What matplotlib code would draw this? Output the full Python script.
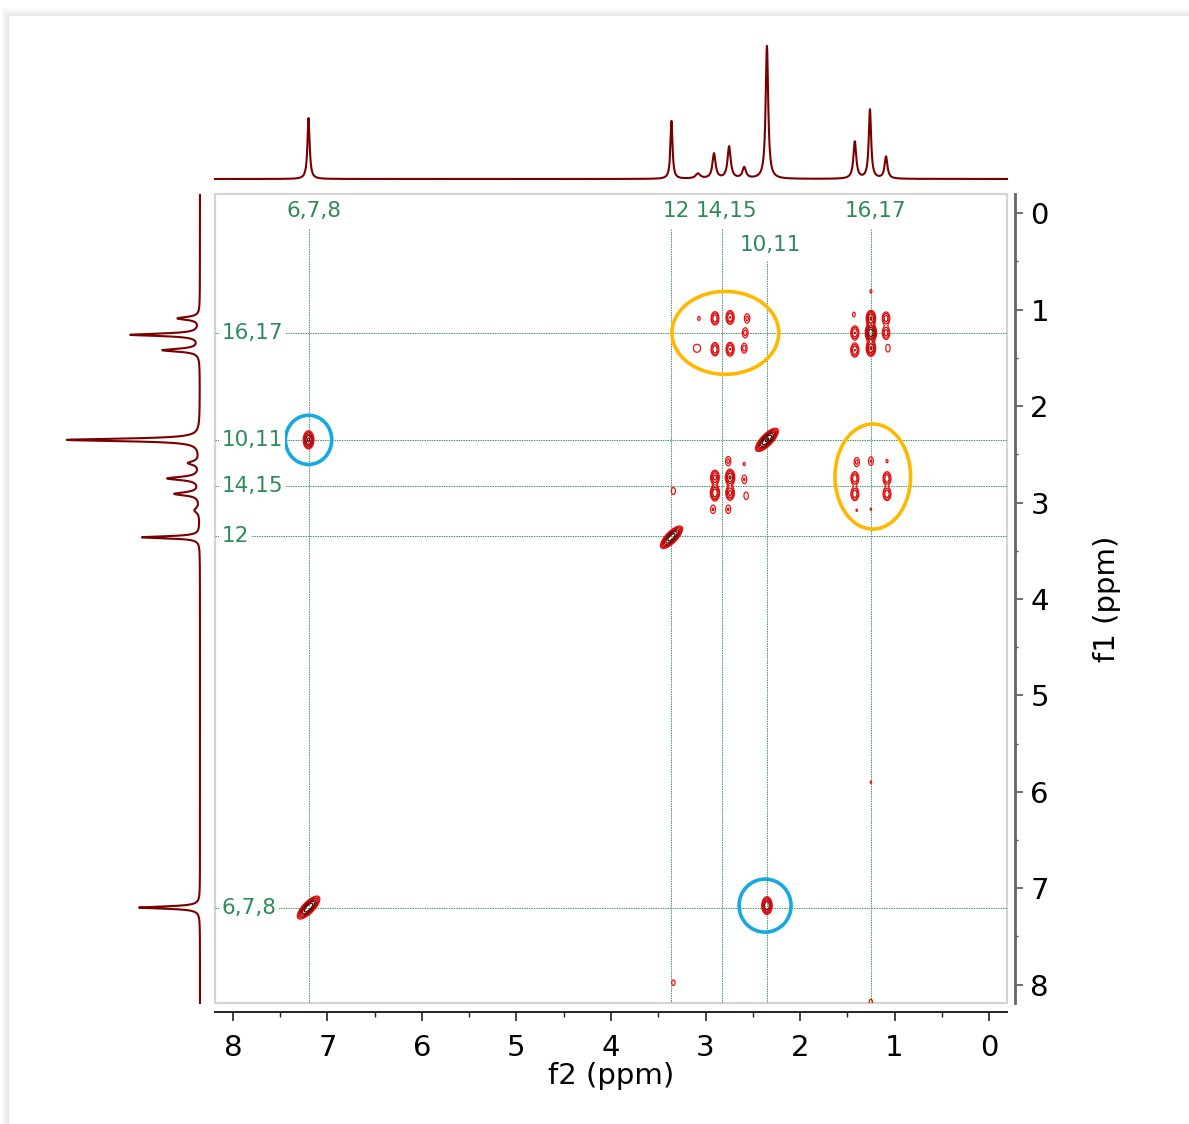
import numpy as np
import matplotlib
matplotlib.use("Agg")
import matplotlib.pyplot as plt
from matplotlib.patches import Ellipse, Rectangle
from matplotlib.ticker import MultipleLocator

# ---------------- data ----------------
# 1D projection (f2 / f1 share the same proton spectrum)
peak_ppm = [7.20, 3.36, 3.08, 2.91, 2.75, 2.59, 2.35, 1.42, 1.26, 1.09]
peak_height = [61, 58, 5, 25, 32, 11, 133, 37, 69, 22]
peak_hwhm = [0.014, 0.013, 0.03, 0.02, 0.02, 0.022, 0.016, 0.018, 0.015, 0.018]

# diagonal (auto) peaks: shift, amplitude
diag_ppm = [7.20, 3.36, 2.35]
diag_amp = [40, 35, 45]

# cross / multiplet peaks: f2, f1, amplitude
cross_f2 = [7.20, 2.35,
            3.07, 2.90, 2.74, 2.56, 2.58, 3.11, 3.07, 2.90, 2.74, 2.59,
            1.40, 1.25, 1.08, 1.42, 1.08, 1.42, 1.08, 1.40, 1.25,
            2.76, 2.59, 2.90, 2.74, 2.59, 2.90, 2.74, 2.57, 2.92, 2.76, 3.34,
            1.25, 1.25, 1.25, 1.42, 1.42, 1.09, 1.09, 1.07, 1.43, 1.25,
            3.34, 1.25, 1.25]
cross_f1 = [2.35, 7.18,
            1.09, 1.09, 1.08, 1.09, 1.24, 1.40, 1.40, 1.41, 1.41, 1.40,
            2.58, 2.57, 2.57, 2.75, 2.75, 2.91, 2.91, 3.08, 3.07,
            2.57, 2.60, 2.74, 2.74, 2.76, 2.90, 2.90, 2.93, 3.07, 3.07, 2.88,
            1.09, 1.24, 1.40, 1.24, 1.42, 1.09, 1.24, 1.40, 1.05, 0.81,
            7.98, 8.18, 5.90]
cross_amp = [16, 14,
             1.15, 4.5, 5, 2.0, 2.2, 1.2, 1.2, 4.5, 5, 2.2,
             2.0, 1.8, 1.1, 4.5, 4.5, 4.5, 4.5, 1.05, 1.05,
             2.0, 1.1, 6, 9, 1.8, 8, 6, 1.6, 1.8, 1.8, 1.5,
             9, 22, 9, 5, 5, 4, 4, 1.6, 1.2, 1.1,
             1.3, 1.3, 1.05]

# labels of the assignment guide lines
top_labels = ["6,7,8", "12", "14,15", "10,11", "16,17"]
top_label_ppm = [7.20, 3.36, 2.83, 2.35, 1.25]
left_labels = ["16,17", "10,11", "14,15", "12", "6,7,8"]
left_label_ppm = [1.24, 2.35, 2.83, 3.35, 7.20]

x_ticks = [8, 7, 6, 5, 4, 3, 2, 1, 0]
y_ticks = [0, 1, 2, 3, 4, 5, 6, 7, 8]

# ---------------- figure ----------------
W, H, DPI = 1189, 1124, 100
fig = plt.figure(figsize=(W / DPI, H / DPI), dpi=DPI)
fig.patch.set_facecolor("white")

# soft card shadow
cx0, cy0 = 9, 16
for k in range(8, 0, -1):
    fig.patches.append(Rectangle(((cx0 - k) / W, 0), 1, (H - cy0 + k) / H,
                                 transform=fig.transFigure, facecolor="#000000",
                                 edgecolor="none", alpha=0.010, zorder=-10))
fig.patches.append(Rectangle((cx0 / W, 0), 1, (H - cy0) / H, transform=fig.transFigure,
                             facecolor="white", edgecolor="none", zorder=-9))

XL = (8.19, -0.19)
YL = (8.19, -0.20)
px_l, px_r, px_t, px_b = 215, 1007, 194, 1003
ax = fig.add_axes([px_l / W, 1 - px_b / H, (px_r - px_l) / W, (px_b - px_t) / H])
ax.set_xlim(*XL)
ax.set_ylim(*YL)
ax.set_facecolor("none")

# frame
ax.add_patch(Rectangle((0, 0), 1, 1, transform=ax.transAxes, fill=False,
                       edgecolor="#d4d4d4", lw=1.6, zorder=1, clip_on=False))
for s in ("top", "left"):
    ax.spines[s].set_visible(False)
ax.spines["bottom"].set_position(("outward", 6.5))
ax.spines["right"].set_position(("outward", 5.8))
ax.spines["bottom"].set_color("#222222")
ax.spines["bottom"].set_linewidth(1.4)
ax.spines["right"].set_color("#666666")
ax.spines["right"].set_linewidth(2.0)
ax.yaxis.tick_right()
ax.yaxis.set_label_position("right")
ax.set_xticks(x_ticks)
ax.set_yticks(y_ticks)
ax.xaxis.set_minor_locator(MultipleLocator(0.5))
ax.yaxis.set_minor_locator(MultipleLocator(0.5))
ax.tick_params(axis="x", which="major", length=6.5, width=1.2, color="#222222",
               labelsize=21, pad=9)
ax.tick_params(axis="x", which="minor", length=3.5, width=1.0, color="#222222")
ax.tick_params(axis="y", which="major", length=6, width=1.2, color="#555555",
               labelsize=21, pad=5)
ax.tick_params(axis="y", which="minor", length=2.5, width=1.0, color="#555555")
ax.set_xlabel("f2 (ppm)", fontsize=21, labelpad=0)
ax.set_ylabel("f1 (ppm)", fontsize=21, labelpad=32, rotation=90)

# ---------------- 2D contour data ----------------
step = 0.005
gx = np.arange(-0.19, 8.19 + step, step)
gy = np.arange(-0.20, 8.19 + step, step)
Z = np.zeros((gy.size, gx.size))


def add_peak(f2, f1, amp, su, sv, tilt):
    w = 0.4
    i0, i1 = np.searchsorted(gx, [f2 - w, f2 + w])
    j0, j1 = np.searchsorted(gy, [f1 - w, f1 + w])
    X, Y = np.meshgrid(gx[i0:i1] - f2, gy[j0:j1] - f1)
    if tilt:
        u = (X + Y) / np.sqrt(2)
        v = (X - Y) / np.sqrt(2)
    else:
        u, v = X, Y
    Z[j0:j1, i0:i1] += amp * np.exp(-u ** 2 / (2 * su ** 2) - v ** 2 / (2 * sv ** 2))


for p, a in zip(diag_ppm, diag_amp):
    add_peak(p, p, a, 0.058, 0.022, True)
for f2, f1, a in zip(cross_f2, cross_f1, cross_amp):
    add_peak(f2, f1, a, 0.024, 0.040, False)

levels = [1.0, 1.7, 2.9, 4.9, 8.3, 14, 24, 41]
ccols = ["#f01010", "#e00e0e", "#cc0b0b", "#b00808", "#900505", "#700303", "#500101", "#300000"]
ax.contour(gx, gy, Z, levels=levels, colors=ccols, linewidths=0.9, zorder=3)

# ---------------- guide lines ----------------
gcol = "#3b9a62"
vstart = [0.16, 0.16, 0.16, 0.50, 0.16]
for p, s in zip(top_label_ppm, vstart):
    ax.plot([p, p], [s, YL[0]], color=gcol, lw=0.7, ls=(0, (1.5, 1)), zorder=2)
for p in left_label_ppm:
    ax.plot(XL, [p, p], color=gcol, lw=0.7, ls=(0, (1.5, 1)), zorder=2)

tcol = "#2e8b57"
top_lab_x = [7.14, 3.31, 2.78, 2.31, 1.20]
top_lab_y = [-0.02, -0.02, -0.02, 0.33, -0.02]
for t, x, y in zip(top_labels, top_lab_x, top_lab_y):
    ax.text(x, y, t, color=tcol, fontsize=15.5, ha="center", va="center", zorder=10,
            clip_on=False, bbox=dict(facecolor="white", edgecolor="none", pad=1.5))
for t, y in zip(left_labels, left_label_ppm):
    ax.text(8.12, y, t, color=tcol, fontsize=15.5, ha="left", va="center", zorder=10,
            clip_on=False, bbox=dict(facecolor="white", edgecolor="none", pad=1.5))

# ---------------- highlight ellipses ----------------
orange = "#ffb800"
blue = "#16a8e0"
ax.add_patch(Ellipse((2.79, 1.24), 1.13, 0.86, fill=False, edgecolor=orange, lw=2.6, zorder=6))
ax.add_patch(Ellipse((1.23, 2.73), 0.80, 1.09, fill=False, edgecolor=orange, lw=2.6, zorder=6))
ax.add_patch(Ellipse((7.20, 2.35), 0.49, 0.51, fill=False, edgecolor=blue, lw=2.6, zorder=6))
ax.add_patch(Ellipse((2.37, 7.18), 0.55, 0.55, fill=False, edgecolor=blue, lw=2.6, zorder=6))

# ---------------- 1D projections ----------------
spec_x = np.linspace(XL[1], XL[0], 6000)


def spectrum(x):
    s = np.zeros_like(x)
    for p, h, g in zip(peak_ppm, peak_height, peak_hwhm):
        s += h * g ** 2 / ((x - p) ** 2 + g ** 2)
    return s


spec = spectrum(spec_x)
scol = "#7a0000"

axt = fig.add_axes([px_l / W, 1 - 179 / H, (px_r - px_l) / W, 133 / H])
axt.set_xlim(*XL)
axt.set_ylim(0, 133)
axt.plot(spec_x, spec, color=scol, lw=1.5, clip_on=False)
axt.axis("off")

axl = fig.add_axes([67 / W, 1 - px_b / H, 133 / W, (px_b - px_t) / H])
axl.set_ylim(*YL)
axl.set_xlim(133, 0)
axl.plot(spec, spec_x, color=scol, lw=1.5, clip_on=False)
axl.axis("off")

fig.savefig("out.png", dpi=DPI)
